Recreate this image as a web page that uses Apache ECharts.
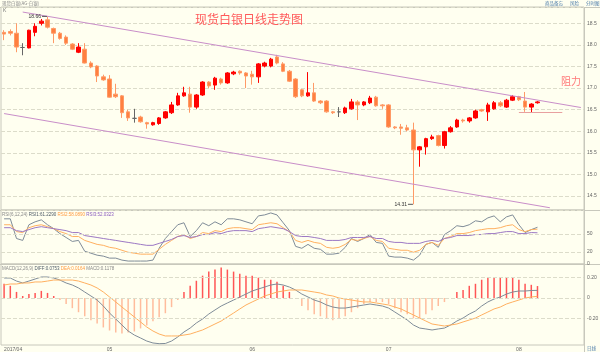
<!DOCTYPE html>
<html>
<head>
<meta charset="utf-8">
<script src="https://cdn.jsdelivr.net/npm/echarts@6.0.0/dist/echarts.min.js"></script>
<style>
  html, body { margin: 0; padding: 0; background: #fffff0; }
  #chart { width: 600px; height: 352px; }
</style>
</head>
<body>
<div id="chart"></div>
<script>
// trading days shown on the chart
const dates = [
  "2017-04-06","2017-04-07","2017-04-10","2017-04-11","2017-04-12","2017-04-13","2017-04-14","2017-04-17","2017-04-18","2017-04-19","2017-04-20","2017-04-21","2017-04-24","2017-04-25","2017-04-26","2017-04-27","2017-04-28",
  "2017-05-01","2017-05-02","2017-05-03","2017-05-04","2017-05-05","2017-05-08","2017-05-09","2017-05-10","2017-05-11","2017-05-12","2017-05-15","2017-05-16","2017-05-17","2017-05-18","2017-05-19","2017-05-22","2017-05-23","2017-05-24","2017-05-25","2017-05-26","2017-05-29","2017-05-30","2017-05-31",
  "2017-06-01","2017-06-02","2017-06-05","2017-06-06","2017-06-07","2017-06-08","2017-06-09","2017-06-12","2017-06-13","2017-06-14","2017-06-15","2017-06-16","2017-06-19","2017-06-20","2017-06-21","2017-06-22","2017-06-23","2017-06-26","2017-06-27","2017-06-28","2017-06-29","2017-06-30",
  "2017-07-03","2017-07-04","2017-07-05","2017-07-06","2017-07-07","2017-07-10","2017-07-11","2017-07-12","2017-07-13","2017-07-14","2017-07-17","2017-07-18","2017-07-19","2017-07-20","2017-07-21","2017-07-24","2017-07-25","2017-07-26","2017-07-27","2017-07-28","2017-07-31",
  "2017-08-01","2017-08-02","2017-08-03","2017-08-04"
];
// empty slots to the right of the last candle
const pads = ["p1","p2","p3","p4","p5","p6","p7"];

// [open, close, low, high]
const kline = [
  [18.29,18.25,18.11,18.34],[18.31,18.27,18.22,18.36],[18.27,17.95,17.83,18.50],[17.94,17.94,17.76,18.04],
  [17.93,18.34,17.92,18.35],[18.29,18.43,18.20,18.50],[18.50,18.55,18.45,18.60],[18.58,18.41,18.38,18.66],
  [18.38,18.27,18.04,18.40],[18.27,18.15,18.12,18.30],[18.18,18.04,18.00,18.22],[18.02,17.90,17.88,18.04],
  [17.83,17.95,17.81,18.04],[17.90,17.58,17.57,18.04],[17.58,17.49,17.46,17.62],[17.51,17.28,17.14,17.53],
  [17.26,17.19,17.17,17.31],[17.21,16.79,16.78,17.30],[16.86,16.80,16.77,17.10],[16.82,16.43,16.31,16.84],
  [16.45,16.31,16.24,16.50],[16.30,16.30,16.20,16.52],[16.33,16.22,16.20,16.36],[16.20,16.17,16.06,16.22],
  [16.15,16.20,16.13,16.22],[16.18,16.31,16.15,16.33],[16.31,16.45,16.29,16.47],[16.43,16.61,16.40,16.68],
  [16.61,16.82,16.59,16.89],[16.82,16.89,16.80,17.03],[16.86,16.56,16.43,17.03],[16.56,16.84,16.52,16.86],
  [16.84,17.14,16.82,17.16],[17.14,17.05,17.00,17.16],[17.07,17.23,16.96,17.26],[17.21,17.12,17.08,17.24],
  [17.12,17.35,17.10,17.37],[17.33,17.37,17.30,17.40],[17.39,17.35,17.31,17.41],[17.35,17.28,17.00,17.37],
  [17.32,17.26,17.08,17.40],[17.26,17.56,17.12,17.58],[17.51,17.58,17.48,17.61],[17.51,17.67,17.48,17.70],
  [17.72,17.58,17.55,17.77],[17.56,17.39,17.37,17.60],[17.39,17.16,17.14,17.42],[17.21,16.80,16.77,17.23],
  [16.96,16.82,16.79,16.98],[16.82,16.89,16.80,17.37],[16.89,16.70,16.68,17.12],[16.70,16.66,16.63,16.72],
  [16.70,16.45,16.43,16.72],[16.45,16.43,16.40,16.47],[16.45,16.45,16.33,16.56],[16.43,16.54,16.40,16.57],
  [16.52,16.68,16.50,16.75],[16.68,16.61,16.26,16.72],[16.61,16.68,16.58,16.70],[16.66,16.77,16.63,16.82],
  [16.79,16.59,16.57,16.82],[16.61,16.59,16.52,16.63],[16.61,16.10,16.08,16.63],[16.10,16.08,16.05,16.12],
  [16.10,16.07,15.92,16.17],[16.08,16.03,16.00,16.15],[16.03,15.57,14.31,16.20],[15.57,15.64,15.18,15.66],
  [15.64,15.83,15.46,15.85],[15.83,15.87,15.80,15.92],[15.90,15.67,15.65,15.92],[15.67,15.99,15.60,16.01],
  [15.99,16.08,15.97,16.12],[16.10,16.26,16.08,16.29],[16.26,16.24,16.20,16.29],[16.24,16.31,16.20,16.33],
  [16.31,16.47,16.29,16.50],[16.50,16.47,16.45,16.52],[16.45,16.61,16.24,16.66],[16.52,16.66,16.50,16.70],
  [16.66,16.59,16.56,16.70],[16.56,16.72,16.54,16.75],[16.72,16.80,16.70,16.84],[16.80,16.73,16.70,16.82],
  [16.70,16.56,16.45,16.91],[16.56,16.63,16.43,16.65],[16.66,16.68,16.64,16.70]
];

// channel lines and support line, [categoryIndex, price]
const trendUpper = [[3, 18.76], [93, 16.55]];
const trendLower = [[0, 16.41], [88, 14.23]];
const support = [[83, 16.43], [90, 16.43]];

const priceTicks = [14.5, 15.0, 15.5, 16.0, 16.5, 17.0, 17.5, 18.0, 18.5];

const rsi1 = [
  75.3,75.3,42.5,39.3,65.4,70.3,73.6,65.4,58.9,50.7,44.2,37.6,39.3,21.3,18.0,14.7,13.1,9.8,9.8,6.5,
  4.9,4.9,4.9,4.9,6.5,26.2,42.5,54.0,65.4,68.7,45.8,55.6,68.7,63.8,70.3,65.4,75.3,75.3,73.6,70.3,
  67.1,80.2,81.8,85.1,81.8,68.7,55.6,29.4,26.2,32.7,26.2,24.5,16.4,16.4,18.0,27.8,42.5,37.6,42.5,49.1,
  36.0,34.4,13.1,11.5,11.5,9.8,6.5,14.7,32.7,36.0,27.8,49.1,55.6,63.8,62.2,65.4,72.0,70.3,76.9,80.2,
  70.3,78.5,81.8,65.4,52.4,57.3,61.229
];
const rsi2 = [
  65.4,65.4,54.0,52.4,60.5,63.8,65.4,62.2,58.9,54.0,50.7,45.8,45.8,39.3,36.0,32.7,31.1,27.8,26.2,22.9,
  19.6,18.0,16.4,16.4,16.4,24.5,32.7,39.3,45.8,49.1,42.5,45.8,52.4,50.7,55.6,54.0,58.9,60.5,60.5,58.9,
  57.3,65.4,67.1,68.7,67.1,60.5,54.0,39.3,36.0,39.3,36.0,34.4,27.8,26.2,27.8,32.7,40.9,39.3,42.5,45.8,
  39.3,37.6,26.2,24.5,22.9,22.9,19.6,22.9,32.7,36.0,31.1,42.5,45.8,50.7,50.7,52.4,55.6,57.3,58.9,58.9,
  60.5,63.8,65.4,57.3,54.0,57.3,58.089
];
const rsi3 = [
  60.5,60.5,55.6,54.0,57.3,60.5,62.2,60.5,58.9,57.3,55.6,52.4,52.4,47.4,45.8,44.2,42.5,40.9,39.3,37.6,
  36.0,34.4,32.7,31.1,31.1,34.4,37.6,40.9,45.8,47.4,44.2,45.8,49.1,49.1,52.4,50.7,54.0,55.6,55.6,55.6,
  54.0,58.9,60.5,62.2,60.5,58.9,54.0,47.4,45.8,45.8,44.2,42.5,39.3,39.3,39.3,40.9,44.2,44.2,44.2,45.8,
  42.5,42.5,37.6,36.0,36.0,34.4,34.4,34.4,37.6,39.3,37.6,42.5,44.2,47.4,47.4,47.4,49.1,49.1,50.7,50.7,
  52.4,54.0,54.0,50.7,50.7,52.4,52.0323
];

const diff = [
  0.197,0.197,0.167,0.148,0.167,0.187,0.207,0.207,0.197,0.177,0.148,0.128,0.099,0.059,0.020,-0.020,-0.079,-0.148,-0.207,-0.266,
  -0.325,-0.365,-0.394,-0.424,-0.443,-0.450,-0.448,-0.424,-0.384,-0.335,-0.296,-0.246,-0.207,-0.158,-0.118,-0.079,-0.049,-0.020,0.010,0.039,
  0.069,0.089,0.108,0.128,0.138,0.128,0.108,0.079,0.039,0.010,-0.020,-0.039,-0.069,-0.089,-0.099,-0.099,-0.089,-0.079,-0.069,-0.059,
  -0.069,-0.079,-0.099,-0.138,-0.177,-0.217,-0.266,-0.296,-0.305,-0.315,-0.305,-0.296,-0.266,-0.227,-0.197,-0.158,-0.128,-0.079,-0.039,-0.010,
  0.010,0.039,0.059,0.069,0.069,0.074,0.0753
];
const dea = [
  0.128,0.138,0.138,0.148,0.148,0.158,0.158,0.167,0.177,0.177,0.177,0.177,0.167,0.148,0.128,0.099,0.059,0.010,-0.039,-0.089,
  -0.138,-0.187,-0.236,-0.286,-0.325,-0.355,-0.374,-0.374,-0.374,-0.365,-0.355,-0.335,-0.315,-0.286,-0.256,-0.227,-0.187,-0.148,-0.108,-0.069,
  -0.039,-0.010,0.020,0.039,0.059,0.069,0.079,0.079,0.079,0.069,0.059,0.049,0.030,0.020,0.000,-0.010,-0.020,-0.030,-0.039,-0.039,
  -0.049,-0.059,-0.069,-0.089,-0.108,-0.138,-0.167,-0.197,-0.227,-0.256,-0.266,-0.276,-0.266,-0.256,-0.236,-0.217,-0.197,-0.167,-0.138,-0.108,
  -0.089,-0.059,-0.039,-0.020,0.000,0.010,0.0164
];
const macd = [
  0.14,0.12,0.06,0.02,0.04,0.05,0.07,0.05,0.02,-0.02,-0.06,-0.10,-0.14,-0.18,-0.22,-0.25,-0.29,-0.32,-0.34,-0.35,
  -0.34,-0.33,-0.30,-0.27,-0.23,-0.19,-0.15,-0.09,-0.02,0.06,0.12,0.17,0.22,0.26,0.28,0.30,0.28,0.26,0.24,0.22,
  0.22,0.20,0.18,0.18,0.16,0.12,0.06,0.00,-0.08,-0.12,-0.16,-0.18,-0.20,-0.22,-0.20,-0.18,-0.14,-0.10,-0.06,-0.04,
  -0.04,-0.04,-0.06,-0.10,-0.14,-0.16,-0.20,-0.20,-0.16,-0.12,-0.08,-0.04,0.00,0.06,0.08,0.12,0.14,0.18,0.20,0.20,
  0.20,0.20,0.20,0.18,0.14,0.13,0.1178
];

const cats = dates.concat(pads);
const last = (arr) => arr[arr.length - 1];
const near = (a, b) => Math.abs(a - b) < 1e-6;

const chart = echarts.init(document.getElementById("chart"), null, { renderer: "canvas" });

const gridBase = { left: 1, right: 16, show: true, borderColor: "#c8c8bc", borderWidth: 1, outerBoundsMode: "none" };
const dashed = { type: "dashed", color: "#dcdcca", width: 1 };
const smallFont = "Liberation Sans";

function xAxisFor(idx, showLabel) {
  return {
    type: "category",
    gridIndex: idx,
    data: cats,
    boundaryGap: true,
    axisLine: { show: false },
    axisTick: { show: false },
    splitLine: { show: false },
    axisLabel: showLabel
      ? {
          show: true,
          fontSize: 5,
          color: "#666",
          fontFamily: smallFont,
          margin: 2,
          alignMinLabel: "left",
          interval: function (i) {
            return i < dates.length && (i === 0 || dates[i].slice(5, 7) !== dates[i - 1].slice(5, 7));
          },
          formatter: function (val, i) {
            return i === 0 ? val.slice(0, 4) + "/" + val.slice(5, 7) : val.slice(5, 7);
          },
        }
      : { show: false },
  };
}

const option = {
  animation: false,
  backgroundColor: "#fffff0",
  textStyle: { fontFamily: "Noto Sans CJK SC" },
  title: {
    text: "现货白银日线走势图",
    left: 190,
    top: 8,
    textStyle: { color: "#ff5a5a", fontSize: 12, fontWeight: "normal", fontFamily: "Noto Sans CJK SC" },
  },
  grid: [
    Object.assign({ top: 7, height: 203 }, gridBase),
    Object.assign({ top: 210, height: 54 }, gridBase),
    Object.assign({ top: 264, height: 81 }, gridBase),
  ],
  xAxis: [xAxisFor(0, false), xAxisFor(1, false), xAxisFor(2, true)],
  yAxis: [
    {
      type: "value",
      gridIndex: 0,
      position: "right",
      min: 14.178,
      max: 18.877,
      splitNumber: 9,
      axisLine: { show: false },
      axisTick: { show: false },
      axisLabel: {
        fontSize: 5,
        color: "#666",
        fontFamily: smallFont,
        margin: 3,
        showMinLabel: false,
        showMaxLabel: false,
        formatter: function (v) {
          return priceTicks.some((t) => near(t, v)) ? v.toFixed(1) : "";
        },
      },
      splitLine: { show: true, lineStyle: dashed },
    },
    {
      type: "value",
      gridIndex: 1,
      position: "right",
      min: 0,
      max: 90,
      interval: 10,
      axisLine: { show: false },
      axisTick: { show: false },
      axisLabel: {
        fontSize: 5,
        color: "#666",
        fontFamily: smallFont,
        margin: 3,
        formatter: function (v) {
          return v === 50 || v === 20 || v === 0 ? String(v) : "";
        },
      },
      splitLine: { show: false },
    },
    {
      type: "value",
      gridIndex: 2,
      position: "right",
      min: -0.463,
      max: 0.335,
      splitNumber: 4,
      axisLine: { show: false },
      axisTick: { show: false },
      axisLabel: {
        fontSize: 5,
        color: "#666",
        fontFamily: smallFont,
        margin: 3,
        showMinLabel: false,
        showMaxLabel: false,
        formatter: function (v) {
          if (near(v, 0.2)) return "0.20";
          if (near(v, 0)) return "0";
          if (near(v, -0.2)) return "-0.20";
          return "";
        },
      },
      splitLine: { show: false },
    },
  ],
  series: [
    {
      name: "K",
      type: "candlestick",
      xAxisIndex: 0,
      yAxisIndex: 0,
      data: kline,
      barWidth: 4,
      itemStyle: {
        color: "#ff0000",
        color0: "#ff8040",
        borderColor: "#ff0000",
        borderColor0: "#ff9a66",
        borderColorDoji: "#666666",
        borderWidth: 1,
      },
      markLine: {
        silent: true,
        symbol: ["none", "none"],
        label: { show: false },
        lineStyle: { type: "solid", color: "#c98ec9", width: 1 },
        data: [
          [{ coord: trendUpper[0] }, { coord: trendUpper[1] }],
          [{ coord: trendLower[0] }, { coord: trendLower[1] }],
          [
            { coord: support[0], lineStyle: { color: "#e8a0a0" } },
            { coord: support[1] },
          ],
        ],
      },
      markPoint: {
        symbol: "rect",
        symbolSize: [5, 1],
        symbolOffset: [-3, 0],
        itemStyle: { color: "#555" },
        label: {
          show: true,
          position: "left",
          distance: 1,
          fontSize: 5,
          color: "#333",
          fontFamily: smallFont,
          formatter: (p) => p.value.toFixed(2),
        },
        data: [
          { type: "max", valueDim: "highest" },
          { type: "min", valueDim: "lowest" },
        ],
      },
    },
    {
      name: "RSI1",
      type: "line",
      xAxisIndex: 1,
      yAxisIndex: 1,
      data: rsi1,
      showSymbol: false,
      lineStyle: { color: "#7f8c98", width: 1 },
      markLine: {
        silent: true,
        symbol: ["none", "none"],
        label: { show: false },
        lineStyle: dashed,
        data: [{ yAxis: 20 }, { yAxis: 50 }],
      },
    },
    {
      name: "RSI2",
      type: "line",
      xAxisIndex: 1,
      yAxisIndex: 1,
      data: rsi2,
      showSymbol: false,
      lineStyle: { color: "#ffb060", width: 1 },
    },
    {
      name: "RSI3",
      type: "line",
      xAxisIndex: 1,
      yAxisIndex: 1,
      data: rsi3,
      showSymbol: false,
      lineStyle: { color: "#9c78c4", width: 1 },
    },
    {
      name: "MACD",
      type: "bar",
      xAxisIndex: 2,
      yAxisIndex: 2,
      data: macd,
      barWidth: 1.5,
      itemStyle: {
        color: (p) => (p.value >= 0 ? "#ff5555" : "#ffbc9c"),
      },
      markLine: {
        silent: true,
        symbol: ["none", "none"],
        label: { show: false },
        lineStyle: dashed,
        data: [{ yAxis: 0.2 }, { yAxis: 0 }, { yAxis: -0.2 }],
      },
    },
    {
      name: "DIFF",
      type: "line",
      xAxisIndex: 2,
      yAxisIndex: 2,
      data: diff,
      showSymbol: false,
      lineStyle: { color: "#7f8c98", width: 1 },
    },
    {
      name: "DEA",
      type: "line",
      xAxisIndex: 2,
      yAxisIndex: 2,
      data: dea,
      showSymbol: false,
      lineStyle: { color: "#ffb060", width: 1 },
    },
  ],
  graphic: [
    // full width separators and right axis rule
    { type: "line", silent: true, shape: { x1: 0, y1: 7.5, x2: 600, y2: 7.5 }, style: { stroke: "#c8c8bc" } },
    { type: "line", silent: true, shape: { x1: 0, y1: 210.5, x2: 600, y2: 210.5 }, style: { stroke: "#c8c8bc" } },
    { type: "line", silent: true, shape: { x1: 0, y1: 264.5, x2: 600, y2: 264.5 }, style: { stroke: "#c8c8bc" } },
    { type: "line", silent: true, shape: { x1: 584.5, y1: 7, x2: 584.5, y2: 352 }, style: { stroke: "#c8c8bc" } },
    {
      type: "text", left: 2, top: 1,
      style: { text: "现货白银(AG-白银)", fontSize: 4.5, fill: "#888", fontFamily: "Noto Sans CJK SC" },
    },
    {
      type: "text", left: 545, top: 1,
      style: { text: "商品备忘", fontSize: 4.5, fill: "#4a7aa8", fontFamily: "Noto Sans CJK SC" },
    },
    {
      type: "text", left: 570, top: 1,
      style: { text: "风险", fontSize: 4.5, fill: "#4a7aa8", fontFamily: "Noto Sans CJK SC" },
    },
    {
      type: "text", left: 586, top: 1,
      style: { text: "分时图", fontSize: 4.5, fill: "#4a7aa8", fontFamily: "Noto Sans CJK SC" },
    },
    {
      type: "text", left: 3, top: 8,
      style: { text: "K", fontSize: 5, fill: "#777", fontFamily: smallFont },
    },
    {
      type: "text", left: 561, top: 76,
      style: { text: "阻力", fontSize: 10, fill: "#ff7878", fontFamily: "Noto Sans CJK SC" },
    },
    {
      type: "text", left: 2, top: 212,
      style: {
        text:
          "{a|RSI(6,12,24)} {b|RSI1:" + last(rsi1).toFixed(4) + "} {c|RSI2:" + last(rsi2).toFixed(4) +
          "} {d|RSI3:" + last(rsi3).toFixed(4) + "}",
        fontSize: 4.5,
        fontFamily: smallFont,
        rich: {
          a: { fill: "#888", fontSize: 4.5 },
          b: { fill: "#4d5a66", fontSize: 4.5 },
          c: { fill: "#ff9a40", fontSize: 4.5 },
          d: { fill: "#8a5cbf", fontSize: 4.5 },
        },
      },
    },
    {
      type: "text", left: 2, top: 266,
      style: {
        text:
          "{a|MACD(12,26,9)} {b|DIFF:" + last(diff).toFixed(4) + "} {c|DEA:" + last(dea).toFixed(4) +
          "} {a|MACD:" + last(macd).toFixed(4) + "}",
        fontSize: 4.5,
        fontFamily: smallFont,
        rich: {
          a: { fill: "#888", fontSize: 4.5 },
          b: { fill: "#4d5a66", fontSize: 4.5 },
          c: { fill: "#ff9a40", fontSize: 4.5 },
        },
      },
    },
    {
      type: "text", left: 587, top: 346,
      style: { text: "日线", fontSize: 4.5, fill: "#4a7aa8", fontFamily: "Noto Sans CJK SC" },
    },
  ],
};

chart.setOption(option);
</script>
</body>
</html>
